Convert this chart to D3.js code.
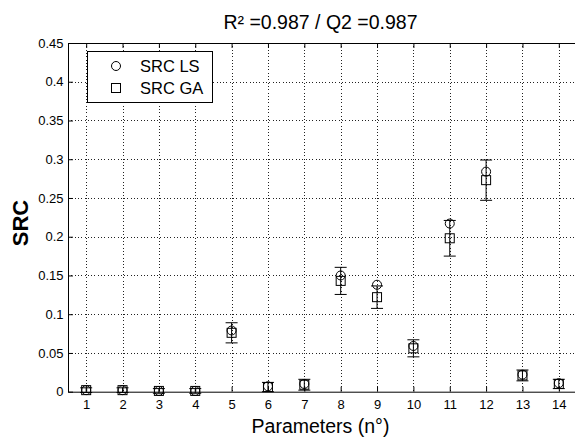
<!DOCTYPE html>
<html>
<head>
<meta charset="utf-8">
<script src="https://cdn.jsdelivr.net/npm/d3@7"></script>
<style>
  html, body { margin: 0; padding: 0; background: #fff; overflow: hidden; }
  svg { display: block; }
  text { font-family: "Liberation Sans", Arial, Helvetica, sans-serif; fill: #000; }
</style>
</head>
<body>
<svg id="chart" width="575" height="437"></svg>
<script>
// Sensitivity indices per parameter: least-squares estimate vs. genetic-algorithm estimate
const params = [1, 2, 3, 4, 5, 6, 7, 8, 9, 10, 11, 12, 13, 14];
const srcLS  = [0.002, 0.002, 0.001, 0.001, 0.079, 0.007, 0.010, 0.150, 0.138, 0.059, 0.217, 0.284, 0.022, 0.011];
const srcGA  = [0.002, 0.002, 0.001, 0.001, 0.076, 0.006, 0.009, 0.143, 0.122, 0.056, 0.198, 0.273, 0.021, 0.010];
const errGA  = [0.003, 0.003, 0.003, 0.003, 0.013, 0.006, 0.007, 0.0175, 0.0145, 0.011, 0.023, 0.026, 0.007, 0.006];
const yTicks = [0, 0.05, 0.1, 0.15, 0.2, 0.25, 0.3, 0.35, 0.4, 0.45];
const seriesNames = ["SRC LS", "SRC GA"];
const titleText = "R\u00B2 =0.987 / Q2 =0.987";
const xLabel = "Parameters (n\u00B0)";
const yLabel = "SRC";

const svg = d3.select("#chart");
const plotL = 68, plotR = 577, plotT = 43, plotB = 391.7;

const x = d3.scaleLinear().domain([0.5, 14.5]).range([plotL, plotR]);
const y = d3.scaleLinear().domain([0, 0.45]).range([plotB, plotT]);

// dotted grid
const grid = svg.append("g").attr("stroke", "#222").attr("stroke-width", 1)
  .attr("stroke-dasharray", "1,2.3").attr("shape-rendering", "crispEdges");
grid.selectAll("line.gx").data(params).join("line").attr("class", "gx")
  .attr("x1", d => Math.round(x(d)) + 0.5).attr("x2", d => Math.round(x(d)) + 0.5)
  .attr("y1", plotT).attr("y2", plotB);
grid.selectAll("line.gy").data(yTicks.filter(d => d > 0 && d < 0.45)).join("line").attr("class", "gy")
  .attr("x1", plotL).attr("x2", plotR)
  .attr("y1", d => Math.round(y(d)) + 0.5).attr("y2", d => Math.round(y(d)) + 0.5);

const fmt = d => String(+d.toFixed(2));

// axes with inward ticks
const xAxis = svg.append("g").attr("transform", `translate(0,${plotB})`)
  .call(d3.axisBottom(x).tickValues(params).tickFormat(d3.format("d"))
    .tickSizeInner(-5).tickSizeOuter(0).tickPadding(8));
const xTop = svg.append("g").attr("transform", `translate(0,${plotT})`)
  .call(d3.axisTop(x).tickValues(params).tickFormat("")
    .tickSizeInner(-5).tickSizeOuter(0));
const yAxis = svg.append("g").attr("transform", `translate(${plotL},0)`)
  .call(d3.axisLeft(y).tickValues(yTicks).tickFormat(fmt)
    .tickSizeInner(-5).tickSizeOuter(0).tickPadding(4.5));
[xAxis, xTop, yAxis].forEach(g => {
  g.selectAll("path, line").attr("stroke", "#000").attr("stroke-width", 1);
  g.selectAll("text").attr("font-size", 13).attr("font-family", "\"Liberation Sans\", Arial, sans-serif").attr("fill", "#000");
});

// error bars on the GA estimate
const eb = svg.append("g").attr("stroke", "#000").attr("stroke-width", 1).attr("fill", "none");
const cap = 6;
params.forEach((p, i) => {
  const cx = x(p), lo = y(srcGA[i] - errGA[i]), hi = y(srcGA[i] + errGA[i]);
  eb.append("line").attr("x1", cx).attr("x2", cx).attr("y1", lo).attr("y2", hi);
  eb.append("line").attr("x1", cx - cap).attr("x2", cx + cap).attr("y1", lo).attr("y2", lo);
  eb.append("line").attr("x1", cx - cap).attr("x2", cx + cap).attr("y1", hi).attr("y2", hi);
});

// markers
const mk = svg.append("g").attr("stroke", "#000").attr("stroke-width", 1).attr("fill", "none");
mk.selectAll("circle").data(params).join("circle")
  .attr("cx", d => x(d)).attr("cy", (d, i) => y(srcLS[i])).attr("r", 4.5);
mk.selectAll("rect").data(params).join("rect")
  .attr("x", d => x(d) - 4.5).attr("y", (d, i) => y(srcGA[i]) - 4.5)
  .attr("width", 9).attr("height", 9);

// legend
const lg = svg.append("g");
lg.append("rect").attr("x", 87.5).attr("y", 51.5).attr("width", 125).attr("height", 51)
  .attr("fill", "#fff").attr("stroke", "#000").attr("stroke-width", 1);
lg.append("circle").attr("cx", 116).attr("cy", 66).attr("r", 4.5)
  .attr("fill", "none").attr("stroke", "#000");
lg.append("rect").attr("x", 111.5).attr("y", 83.5).attr("width", 9).attr("height", 9)
  .attr("fill", "none").attr("stroke", "#000");
lg.selectAll("text").data(seriesNames).join("text")
  .attr("x", 140).attr("y", (d, i) => 71.5 + i * 22)
  .attr("font-size", 16.5).text(d => d);

// titles
svg.append("text").attr("x", 320.5).attr("y", 28.5).attr("text-anchor", "middle")
  .attr("font-size", 19.5).text(titleText);
svg.append("text").attr("x", 320.5).attr("y", 433).attr("text-anchor", "middle")
  .attr("font-size", 19.5).text(xLabel);
svg.append("text").attr("transform", "translate(27.5,223) rotate(-90)")
  .attr("text-anchor", "middle").attr("font-size", 22).attr("font-weight", "bold").text(yLabel);
</script>
</body>
</html>
